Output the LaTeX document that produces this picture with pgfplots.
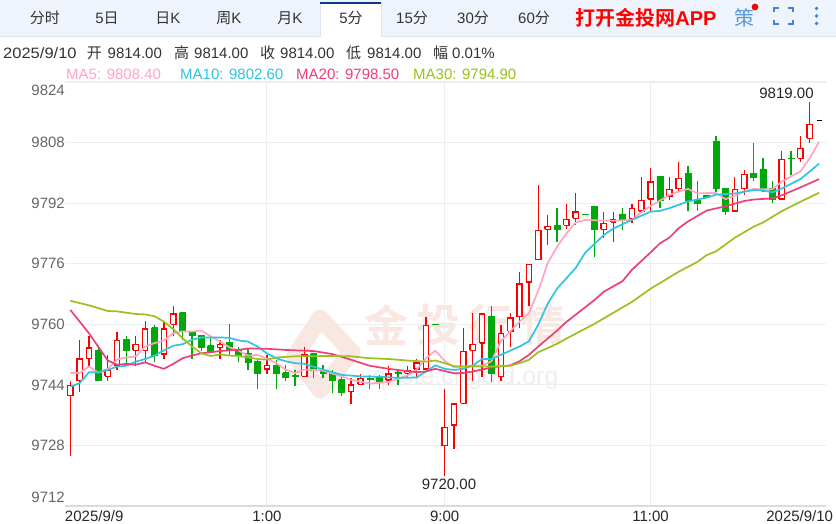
\documentclass[border=0pt]{standalone}
\usepackage{pgfplots}
\pgfplotsset{compat=1.18}
\usepackage{fontspec}
\setmainfont{Liberation Sans}
\newfontfamily\cjk{Noto Sans CJK SC}
\newfontfamily\cjkb{Noto Sans CJK SC}[BoldFont={Noto Sans CJK SC Bold}]
\definecolor{up}{HTML}{FF0000}
\definecolor{down}{HTML}{00A80B}
\definecolor{mafive}{HTML}{FFA6C2}
\definecolor{maten}{HTML}{2FC4E2}
\definecolor{matwenty}{HTML}{EE4077}
\definecolor{mathirty}{HTML}{9CC01E}
\definecolor{gridc}{HTML}{EEEEEE}
\definecolor{headbg}{HTML}{EFF4FC}
\definecolor{headln}{HTML}{DCE5F3}
\definecolor{navy}{HTML}{0B3A8C}
\definecolor{txt}{HTML}{333333}
\definecolor{axtxt}{HTML}{666666}
\definecolor{icon}{HTML}{3F86D0}
\definecolor{wmred}{HTML}{FAE7E2}
\definecolor{wmgray}{HTML}{EFEFEF}
% i open high low close
\newcommand\candle[5]{%
  \ifdim#5pt<#2pt\def\cc{down}\def\hw{0.32}\else\def\cc{up}\def\hw{0.28}\fi
  \pgfmathsetmacro\xa{#1-\hw}\pgfmathsetmacro\xb{#1+\hw}%
  \edef\tmp{\noexpand\addplot[draw=\cc,line width=1.3pt,forget plot] coordinates {(#1,#4)(#1,#3)};
  \noexpand\addplot[draw=\cc,fill=\ifdim#5pt<#2pt down\else white\fi,line width=\ifdim#5pt<#2pt 0.6pt\else 1.4pt\fi,forget plot] coordinates {(\xa,#2)(\xb,#2)(\xb,#5)(\xa,#5)(\xa,#2)};}%
  \tmp}
\newcommand\tabt[2]{\node[txt,font=\fontsize{15}{15}\selectfont] at (#1,18) {#2};}
\begin{document}
\begin{tikzpicture}[x=1pt,y=1pt]
\path[use as bounding box,fill=white] (0,0) rectangle (836,524);
\begin{scope}[x=1pt,y=-1pt,yshift=524pt]
  % header band
  \fill[headbg] (0,0) rectangle (836,36);
  \fill[headln] (0,36) rectangle (836,37.2);
  \fill[white] (320,2) rectangle (381,37.2);
  \draw[headln,line width=.7pt] (320,2) -- (320,37) (381,2) -- (381,37);
  \fill[navy] (320,2) rectangle (381,4);
  \tabt{45}{\cjk 分时}
  \tabt{107}{5\cjk 日}
  \tabt{168}{{\cjk 日}K}
  \tabt{229}{{\cjk 周}K}
  \tabt{290}{{\cjk 月}K}
  \tabt{351}{5\cjk 分}
  \tabt{412}{15\cjk 分}
  \tabt{473}{30\cjk 分}
  \tabt{534}{60\cjk 分}
  \node[text=red,font=\fontsize{20}{20}\selectfont\bfseries] at (646,18) {{\cjkb\bfseries 打开金投网}APP};
  \node[text=icon!85!white,font=\fontsize{20}{20}\selectfont\cjk] at (744,18) {策};
  \fill[red] (755,7) circle (3.4);
  \draw[icon,line width=2pt] (774,12) -- (774,8) -- (779,8) (787.5,8) -- (792.5,8) -- (792.5,12)
     (792.5,20) -- (792.5,24.5) -- (787.5,24.5) (779,24.5) -- (774,24.5) -- (774,20);
  \fill[icon] (816.6,8.5) circle (1.9) (816.6,16) circle (1.9) (816.6,23.5) circle (1.9);
  % info row
  \begin{scope}[every node/.style={anchor=west,inner sep=0pt,text=txt,font=\fontsize{15}{15}\selectfont}]
    \node[xscale=1.1] at (3,53) {2025/9/10};
    \node at (86.6,53) {\cjk 开};  \node at (107.5,53) {9814.00};
    \node at (174,53) {\cjk 高};   \node at (194,53) {9814.00};
    \node at (260,53) {\cjk 收};   \node at (280,53) {9814.00};
    \node at (346,53) {\cjk 低};   \node at (367,53) {9814.00};
    \node at (433,53) {\cjk 幅};   \node at (452,53) {0.01\%};
    \node[text=mafive] at (66,74) {MA5: 9808.40};
    \node[text=maten] at (180,74) {MA10: 9802.60};
    \node[text=matwenty] at (296,74) {MA20: 9798.50};
    \node[text=mathirty] at (413,74) {MA30: 9794.90};
  \end{scope}
  % watermark
  \draw[wmred,line width=17pt,line join=round] (320,318) -- (352,352) -- (320,390) -- (295,356) -- cycle;
  \begin{scope}[every node/.style={text=wmred,font=\fontsize{44}{44}\selectfont\cjkb\bfseries}]
    \node at (386,325) {金};
    \node at (438,325) {投};
    \node at (490,325) {行};
    \node at (543,325) {情};
  \end{scope}
  \node[text=wmgray,font=\fontsize{25}{25}\selectfont,anchor=east] at (562,378) {quote.cngold.org};
\end{scope}
\begin{axis}[
  at={(65pt,18pt)},anchor=south west,
  scale only axis,width=761pt,height=424pt,
  xmin=-0.566,xmax=80.74,ymin=9712,ymax=9824.2,
  axis line style={draw=none},
  tick style={draw=none},
  xtick={21,40,62},
  xticklabels={1:00,9:00,11:00},
  extra x ticks={0,80},
  extra x tick labels={\makebox[0pt][l]{\hspace{-5.3pt}2025/9/9},\makebox[0pt][r]{2025/9/10\hspace{-14pt}}},
  extra x tick style={grid=none},
  ytick={9712,9728.03,9744.06,9760.09,9776.12,9792.15,9808.18,9824.2},
  yticklabels={\smash{\raisebox{3.6pt}{9712}},9728,9744,9760,9776,9792,9808,\smash{\raisebox{-13.4pt}{9824}}},
  grid=major,
  grid style={gridc,line width=1.2pt},
  tick label style={font=\fontsize{15}{15}\selectfont},
  yticklabel style={text=axtxt,inner xsep=0pt,xshift=0pt},
  xticklabel style={text=black!85,yshift=-1pt},
  /pgf/number format/assume math mode=true,
  axis on top=false,
]
\candle{0}{9741.2}{9745.1}{9725.1}{9743.9}
\candle{1}{9745.2}{9756.0}{9742.1}{9750.9}
\candle{2}{9751.1}{9757.0}{9748.9}{9753.8}
\candle{3}{9753.3}{9754.2}{9745.2}{9745.2}
\candle{4}{9746.3}{9752.0}{9745.1}{9748.0}
\candle{5}{9749.1}{9758.0}{9748.0}{9755.8}
\candle{6}{9756.1}{9757.0}{9749.4}{9753.2}
\candle{7}{9753.2}{9757.0}{9749.1}{9754.8}
\candle{8}{9753.2}{9761.0}{9750.1}{9758.8}
\candle{9}{9759.2}{9759.9}{9750.1}{9752.0}
\candle{10}{9752.2}{9760.8}{9750.9}{9758.8}
\candle{11}{9760.1}{9765.0}{9757.1}{9762.8}
\candle{12}{9763.2}{9763.2}{9756.0}{9758.2}
\candle{13}{9758.2}{9758.4}{9750.9}{9757.1}
\candle{14}{9757.2}{9757.2}{9752.9}{9754.0}
\candle{15}{9754.4}{9756.9}{9752.9}{9753.0}
\candle{16}{9754.0}{9756.0}{9750.9}{9754.8}
\candle{17}{9755.3}{9760.1}{9752.0}{9753.3}
\candle{18}{9753.3}{9754.2}{9750.1}{9752.0}
\candle{19}{9752.3}{9753.5}{9748.0}{9750.1}
\candle{20}{9750.2}{9750.7}{9743.0}{9747.1}
\candle{21}{9748.2}{9752.0}{9747.0}{9749.1}
\candle{22}{9749.3}{9750.7}{9743.0}{9747.1}
\candle{23}{9747.3}{9749.3}{9745.1}{9746.1}
\candle{24}{9746.5}{9748.0}{9743.8}{9746.4}
\candle{25}{9746.3}{9754.0}{9746.1}{9752.0}
\candle{26}{9752.3}{9752.6}{9746.0}{9747.9}
\candle{27}{9747.6}{9749.3}{9746.0}{9747.1}
\candle{28}{9747.3}{9748.0}{9742.0}{9745.2}
\candle{29}{9745.4}{9746.3}{9741.1}{9742.1}
\candle{30}{9742.3}{9745.8}{9739.0}{9744.0}
\candle{31}{9744.2}{9746.9}{9744.1}{9745.8}
\candle{32}{9745.8}{9746.7}{9743.0}{9745.6}
\candle{33}{9746.0}{9746.7}{9743.0}{9745.1}
\candle{34}{9745.3}{9749.1}{9744.1}{9746.9}
\candle{35}{9747.5}{9748.0}{9744.1}{9747.1}
\candle{36}{9747.1}{9749.1}{9746.0}{9747.9}
\candle{37}{9748.2}{9750.8}{9746.0}{9749.8}
\candle{38}{9748.2}{9762.1}{9748.0}{9759.8}
\candle{39}{9760.1}{9760.1}{9760.0}{9760.0}
\candle{40}{9728.0}{9743.0}{9720.0}{9732.8}
\candle{41}{9733.4}{9739.0}{9727.1}{9739.0}
\candle{42}{9739.2}{9759.1}{9739.2}{9752.9}
\candle{43}{9753.2}{9763.0}{9745.2}{9754.8}
\candle{44}{9755.1}{9763.0}{9746.1}{9762.8}
\candle{45}{9762.3}{9765.0}{9744.9}{9747.2}
\candle{46}{9746.3}{9759.9}{9745.2}{9757.7}
\candle{47}{9758.2}{9763.0}{9754.2}{9761.7}
\candle{48}{9762.1}{9773.8}{9759.0}{9770.7}
\candle{49}{9771.3}{9775.9}{9765.0}{9775.9}
\candle{50}{9777.2}{9796.9}{9777.1}{9784.9}
\candle{51}{9785.2}{9789.0}{9781.1}{9785.9}
\candle{52}{9786.3}{9790.9}{9781.9}{9785.1}
\candle{53}{9786.3}{9791.9}{9785.2}{9787.8}
\candle{54}{9788.1}{9794.9}{9786.4}{9789.8}
\candle{55}{9789.2}{9789.2}{9789.1}{9789.1}
\candle{56}{9791.2}{9791.4}{9778.0}{9785.1}
\candle{57}{9785.2}{9789.9}{9783.0}{9786.8}
\candle{58}{9787.1}{9789.9}{9781.9}{9787.7}
\candle{59}{9789.3}{9790.9}{9785.0}{9787.9}
\candle{60}{9788.1}{9791.9}{9787.0}{9790.8}
\candle{61}{9790.1}{9799.0}{9789.9}{9792.8}
\candle{62}{9793.2}{9801.5}{9790.1}{9797.7}
\candle{63}{9799.2}{9799.2}{9790.9}{9793.0}
\candle{64}{9794.0}{9799.0}{9793.0}{9795.8}
\candle{65}{9796.0}{9802.9}{9795.0}{9798.7}
\candle{66}{9800.0}{9802.0}{9790.1}{9793.0}
\candle{67}{9793.0}{9798.0}{9790.1}{9792.1}
\candle{68}{9794.3}{9794.3}{9793.6}{9793.6}
\candle{69}{9808.4}{9810.0}{9795.2}{9796.2}
\candle{70}{9796.1}{9796.1}{9789.0}{9790.1}
\candle{71}{9790.1}{9799.0}{9790.1}{9795.8}
\candle{72}{9796.0}{9800.9}{9794.3}{9799.7}
\candle{73}{9800.0}{9808.0}{9798.1}{9798.9}
\candle{74}{9801.2}{9804.0}{9795.2}{9796.2}
\candle{75}{9796.1}{9798.0}{9792.1}{9793.2}
\candle{76}{9793.2}{9805.9}{9793.2}{9803.7}
\candle{77}{9804.0}{9805.9}{9799.6}{9803.9}
\candle{78}{9804.0}{9810.0}{9803.1}{9806.6}
\candle{79}{9809.3}{9819.0}{9808.0}{9813.0}
\addplot[draw=black,line width=1.1pt,forget plot] coordinates {(79.73,9814)(80.27,9814)};
% MA5
\addplot[mafive,line width=1.7pt] coordinates {
(0,9747.2)(1,9747.2)(2,9748.9)(3,9747.3)(4,9748.3)(5,9750.8)(6,9751.3)(7,9751.6)(8,9754.2)(9,9755.1)
(10,9755.8)(11,9757.7)(12,9758.2)(13,9758.2)(14,9758.4)(15,9756.9)(16,9755.5)(17,9754.0)(18,9753.1)(19,9751.8)
(20,9752.0)(21,9751.0)(22,9749.8)(23,9748.1)(24,9747.2)(25,9748.1)(26,9748.0)(27,9747.8)(29,9746.3)(30,9745.4)
(32,9744.4)(34,9744.8)(36,9746.5)(37,9748.1)(38,9751.1)(39,9753.1)(40,9750.4)(41,9748.7)(42,9748.8)(43,9749.2)
(44,9749.1)(45,9750.3)(46,9755.6)(47,9758.2)(48,9760.8)(49,9763.0)(50,9769.0)(51,9776.2)(52,9780.6)(53,9784.1)
(54,9787.0)(55,9787.7)(56,9787.6)(58,9787.5)(60,9787.7)(61,9789.7)(62,9791.4)(63,9792.8)(64,9794.3)(65,9795.2)
(66,9795.9)(67,9794.7)(68,9794.8)(69,9794.8)(70,9793.2)(71,9794.1)(72,9795.2)(73,9795.9)(74,9795.8)(75,9795.8)
(76,9797.8)(77,9799.2)(78,9800.5)(79,9804.0)(80,9808.4)};
% MA10
\addplot[maten,line width=1.7pt] coordinates {
(0,9743.6)(1,9744.5)(2,9747.4)(3,9747.4)(4,9748.0)(5,9748.9)(6,9749.1)(7,9750.2)(8,9750.9)(9,9751.8)
(10,9753.2)(11,9754.4)(12,9754.8)(13,9756.0)(14,9756.6)(15,9756.6)(16,9756.6)(17,9756.5)(18,9755.8)(19,9755.5)
(20,9754.2)(21,9752.4)(22,9751.1)(23,9750.3)(24,9749.8)(25,9749.6)(27,9748.1)(29,9746.7)(31,9746.3)(33,9746.2)
(35,9745.9)(37,9746.0)(38,9747.6)(39,9749.2)(40,9748.3)(41,9748.0)(42,9748.3)(43,9749.2)(44,9750.9)(45,9750.9)
(46,9752.0)(47,9753.1)(48,9754.2)(49,9755.6)(50,9760.0)(51,9765.5)(52,9769.5)(54,9775.0)(55,9779.0)(57,9783.7)
(58,9785.4)(60,9787.7)(62,9789.9)(63,9790.1)(64,9790.8)(66,9792.6)(68,9793.6)(69,9794.4)(71,9794.7)(73,9795.6)
(74,9795.5)(75,9795.0)(76,9796.0)(78,9798.5)(79,9800.5)(80,9802.6)};
% MA20
\addplot[matwenty,line width=1.7pt] coordinates {
(0,9763.9)(2,9757.7)(4,9750.5)(5,9749.4)(6,9749.6)(7,9749.4)(8,9750.0)(9,9749.1)(10,9748.3)(11,9749.6)
(12,9751.1)(13,9751.8)(14,9752.4)(16,9753.0)(17,9753.2)(18,9753.3)(19,9753.7)(21,9753.6)(23,9753.3)(26,9753.0)
(28,9752.2)(30,9750.7)(32,9749.1)(34,9748.3)(36,9747.7)(37,9747.4)(38,9747.6)(39,9748.3)(40,9747.7)(41,9747.1)
(42,9747.2)(43,9747.6)(44,9748.1)(45,9748.7)(47,9749.2)(48,9750.3)(49,9752.0)(50,9754.2)(52,9758.4)(53,9760.7)
(56,9766.5)(57,9768.7)(59,9771.5)(60,9774.5)(62,9779.1)(63,9781.5)(64,9783.0)(65,9785.5)(66,9787.3)(68,9790.2)
(70,9791.3)(72,9792.7)(73,9793.1)(75,9793.4)(76,9794.2)(78,9796.3)(80,9798.5)};
% MA30
\addplot[mathirty,line width=1.7pt] coordinates {
(0,9766.3)(2,9765.1)(4,9763.6)(5,9763.5)(7,9762.8)(8,9762.7)(9,9762.2)(10,9760.8)(11,9758.8)(12,9756.4)
(13,9754.2)(14,9752.4)(15,9751.7)(16,9752.1)(17,9751.8)(18,9751.7)(19,9751.3)(20,9750.9)(21,9750.7)(22,9751.3)
(24,9751.6)(28,9751.7)(30,9751.6)(32,9751.1)(34,9750.9)(36,9750.5)(38,9750.2)(39,9750.5)(40,9749.8)(41,9749.0)
(43,9748.9)(45,9748.9)(47,9749.1)(48,9749.8)(49,9750.7)(50,9752.7)(52,9754.9)(53,9756.3)(56,9760.2)(58,9763.1)
(60,9766.0)(62,9769.5)(65,9774.0)(67,9776.6)(68,9778.4)(69,9779.4)(71,9783.0)(73,9785.9)(74,9787.0)(76,9790.0)
(78,9792.5)(80,9794.9)};
\end{axis}
\begin{scope}[x=1pt,y=-1pt,yshift=524pt]
  \fill[gridc!92!black] (65,505.2) rectangle (826,506.6);
  \node[text=black!85,font=\fontsize{15}{15}\selectfont] at (786.5,93) {9819.00};
  \node[text=black!85,font=\fontsize{15}{15}\selectfont] at (449,484) {9720.00};
\end{scope}
\end{tikzpicture}
\end{document}
